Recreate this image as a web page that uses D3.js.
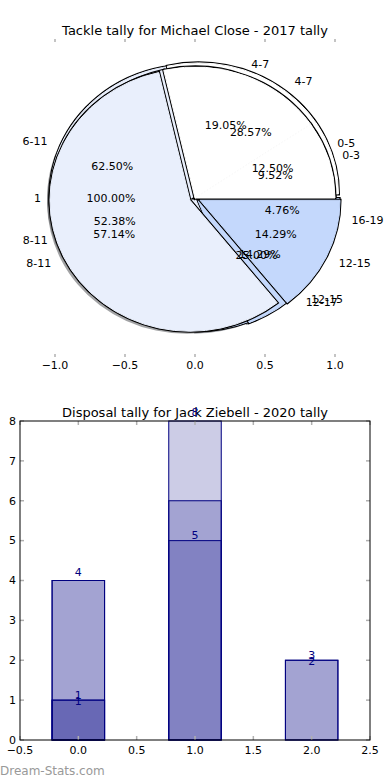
<!DOCTYPE html>
<meta charset="utf-8">
<script src="https://d3js.org/d3.v7.min.js"></script>
<style>
  body { margin: 0; background: #fff; }
  text { font-family: "DejaVu Sans", sans-serif; }
</style>
<body>
<script>

// ---- data: tackle tally pies (four tallies drawn over each other) ----
var pieAValues = [1];
var pieALabels = ["1"];
var pieBValues = [1, 5, 2];
var pieBLabels = ["0-5", "6-11", "12-17"];
var pieXValues = [6, 11, 3, 1];
var pieXLabels = ["4-7", "8-11", "12-15", "16-19"];
var pieYValues = [2, 4, 12, 3];
var pieYLabels = ["0-3", "4-7", "8-11", "12-15"];
var pieTicks = [-1.0, -0.5, 0.0, 0.5, 1.0];

// ---- data: disposal tally bars (overlapping, not stacked) ----
var barCats = [0, 1, 2];
var barS1 = [1, 6, 2];
var barS1Labels = ["1", null, "2"];
var barS2 = [1, 5, 2];
var barS2Labels = ["1", "5", "3"];
var barS3 = [4, 8, null];
var barS3Labels = ["4", "8", null];
var barS4 = [4, null, null];
var barS4Labels = [null, null, null];
var barXTicks = [-0.5, 0.0, 0.5, 1.0, 1.5, 2.0, 2.5];
var barYTicks = [0, 1, 2, 3, 4, 5, 6, 7, 8];

var svg = d3.select("body").append("svg")
  .attr("width", 390)
  .attr("height", 780);

var fmtTick = function(v) { return d3.format(".1f")(v).replace("-", "\u2212"); };

// =================== pie chart ===================
var px = d3.scaleLinear().domain([-1, 1]).range([55, 335]);
var py = d3.scaleLinear().domain([-1, 1]).range([329, 67]);
var cx = px(0), cy = py(0), rx = px(1) - px(0), ry = py(0) - py(1);

var white = "#ffffff", light = "#e9effc", blue = "#c4d8fc";
var pies = [
  {values: pieAValues, labels: pieALabels, colors: [light], explode: [0]},
  {values: pieBValues, labels: pieBLabels, colors: [white, light, blue], explode: [0, 0.04, 0.02]},
  {values: pieXValues, labels: pieXLabels, colors: [white, light, blue, blue], explode: [0.04, 0, 0.03, 0.03]},
  {values: pieYValues, labels: pieYLabels, colors: [white, white, light, blue], explode: [0, 0, 0.04, 0.04]}
];

// matplotlib-style: start at 3 o'clock, go counter-clockwise
var pieGen = d3.pie().sort(null)
  .startAngle(Math.PI / 2)
  .endAngle(Math.PI / 2 - 2 * Math.PI);
var unitArc = d3.arc().innerRadius(0).outerRadius(1);

pies.forEach(function(p) {
  var total = d3.sum(p.values);
  p.arcs = pieGen(p.values).map(function(d, i) {
    var mid = Math.PI / 2 - (d.startAngle + d.endAngle) / 2;
    var e = p.explode[i];
    return {
      arc: d, mid: mid, color: p.colors[i], label: p.labels[i],
      ox: e * Math.cos(mid), oy: e * Math.sin(mid),
      pct: d3.format(".2f")(d.value / total * 100) + "%"
    };
  });
});

title(195, 35, "Tackle tally for Michael Close - 2017 tally");

var pieG = svg.append("g")
  .attr("transform", `translate(${cx},${cy}) scale(${rx},${ry})`);

// shadows go under every wedge
pies.forEach(function(p) {
  pieG.append("g").selectAll("path")
    .data(p.arcs).enter().append("path")
    .attr("d", d => unitArc(d.arc))
    .attr("transform", d => `translate(${d.ox - 0.02},${-d.oy + 0.02})`)
    .attr("fill", d => d3.color(d.color).darker(3.4))
    .attr("fill-opacity", 0.5)
    .attr("stroke", "none");
});

pies.forEach(function(p) {
  // outline first, fill over it, so joined edges of the same pie disappear
  pieG.append("g").selectAll("path")
    .data(p.arcs).enter().append("path")
    .attr("d", d => unitArc(d.arc))
    .attr("transform", d => `translate(${d.ox},${-d.oy})`)
    .attr("fill", "none")
    .attr("stroke", "#000")
    .attr("stroke-width", 3)
    .attr("vector-effect", "non-scaling-stroke");
  pieG.append("g").selectAll("path")
    .data(p.arcs).enter().append("path")
    .attr("d", d => unitArc(d.arc))
    .attr("transform", d => `translate(${d.ox},${-d.oy})`)
    .attr("fill", d => d.color)
    .attr("stroke", d => d.color)
    .attr("stroke-width", 1)
    .attr("vector-effect", "non-scaling-stroke");
});

var pieText = svg.append("g").attr("font-size", 11).attr("fill", "#000");
pies.forEach(function(p) {
  p.arcs.forEach(function(d) {
    var c = Math.cos(d.mid), s = Math.sin(d.mid);
    pieText.append("text")
      .attr("x", px(d.ox + 0.6 * c))
      .attr("y", py(d.oy + 0.6 * s))
      .attr("text-anchor", "middle")
      .attr("dy", "0.35em")
      .text(d.pct);
    pieText.append("text")
      .attr("x", px(d.ox + 1.1 * c))
      .attr("y", py(d.oy + 1.1 * s))
      .attr("text-anchor", c > 0 ? "start" : "end")
      .attr("dy", "0.35em")
      .text(d.label);
  });
});

// only the x ticks of the pie axes are drawn
var pieAx = svg.append("g");
pieTicks.forEach(function(t) {
  pieAx.append("line").attr("x1", px(t)).attr("x2", px(t)).attr("y1", 39).attr("y2", 42)
    .attr("stroke", "#b0b0b0").attr("stroke-width", 1.5);
  pieAx.append("line").attr("x1", px(t)).attr("x2", px(t)).attr("y1", 354).attr("y2", 357)
    .attr("stroke", "#b0b0b0").attr("stroke-width", 1.5);
  pieAx.append("text").attr("x", px(t)).attr("y", 369)
    .attr("text-anchor", "middle").attr("font-size", 11)
    .text(fmtTick(t));
});

// =================== bar chart ===================
var bx = d3.scaleLinear().domain([-0.5, 2.5]).range([20, 370]);
var by = d3.scaleLinear().domain([0, 8]).range([740, 421]);
var barWidth = 0.45;

title(195, 417, "Disposal tally for Jack Ziebell - 2020 tally");

var series = [
  {values: barS1, labels: barS1Labels, dy: 5},
  {values: barS2, labels: barS2Labels, dy: -1.5},
  {values: barS3, labels: barS3Labels, dy: -5},
  {values: barS4, labels: barS4Labels, dy: -5}
];

var barG = svg.append("g");
series.forEach(function(s) {
  var pts = barCats.map((c, i) => ({c: c, v: s.values[i]}))
    .filter(d => d.v != null);
  barG.append("g").selectAll("rect")
    .data(pts).enter().append("rect")
    .attr("x", d => bx(d.c - barWidth / 2))
    .attr("y", d => by(d.v))
    .attr("width", d => bx(d.c + barWidth / 2) - bx(d.c - barWidth / 2))
    .attr("height", d => by(0) - by(d.v))
    .attr("fill", "#000080")
    .attr("fill-opacity", 0.2)
    .attr("stroke", "#000080")
    .attr("stroke-width", 1);
});

var barText = svg.append("g").attr("font-size", 11).attr("fill", "#000080")
  .attr("text-anchor", "middle");
series.forEach(function(s) {
  barCats.forEach(function(c, i) {
    if (s.labels[i] == null) return;
    barText.append("text")
      .attr("x", bx(c))
      .attr("y", by(s.values[i]) + s.dy)
      .text(s.labels[i]);
  });
});

// frame + inward ticks on all four sides
var tickCol = "#b0b0b0";
var axG = svg.append("g");
barXTicks.forEach(function(t) {
  axG.append("line").attr("x1", bx(t)).attr("x2", bx(t)).attr("y1", 740).attr("y2", 736)
    .attr("stroke", tickCol).attr("stroke-width", 1.5);
  axG.append("line").attr("x1", bx(t)).attr("x2", bx(t)).attr("y1", 421).attr("y2", 425)
    .attr("stroke", tickCol).attr("stroke-width", 1.5);
  axG.append("text").attr("x", bx(t)).attr("y", 754)
    .attr("text-anchor", "middle").attr("font-size", 11)
    .text(fmtTick(t));
});
barYTicks.forEach(function(t) {
  axG.append("line").attr("x1", 20).attr("x2", 24).attr("y1", by(t)).attr("y2", by(t))
    .attr("stroke", tickCol).attr("stroke-width", 1.5);
  axG.append("line").attr("x1", 370).attr("x2", 366).attr("y1", by(t)).attr("y2", by(t))
    .attr("stroke", tickCol).attr("stroke-width", 1.5);
  axG.append("text").attr("x", 16).attr("y", by(t)).attr("dy", "0.35em")
    .attr("text-anchor", "end").attr("font-size", 11)
    .text(t);
});
axG.append("rect")
  .attr("x", 20).attr("y", 421)
  .attr("width", 350).attr("height", 319)
  .attr("fill", "none").attr("stroke", "#000").attr("stroke-width", 1);

// watermark
svg.append("text")
  .attr("x", 0).attr("y", 775)
  .attr("font-size", 12)
  .attr("fill", "#999")
  .text("Dream-Stats.com");

function title(x, y, t) {
  svg.append("text")
    .attr("x", x).attr("y", y)
    .attr("text-anchor", "middle")
    .attr("font-size", 13)
    .attr("fill", "#000")
    .text(t);
}

</script>
</body>
